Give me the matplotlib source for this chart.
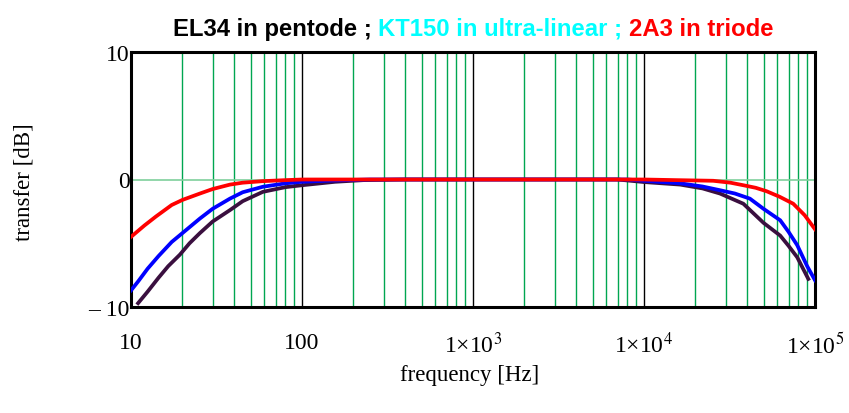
import numpy as np
import matplotlib
matplotlib.use('Agg')
import matplotlib.pyplot as plt

plt.rcParams['font.family'] = 'Liberation Serif'
plt.rcParams['mathtext.fontset'] = 'stix'

# EL34 in pentode (dark purple)
el34_f = [11.0, 12.5, 14.5, 16.5, 19.3, 22, 25.3, 30, 37.9, 45, 59, 80, 100, 156, 228, 400,
          1000, 7000, 10000, 16300, 22000, 27800, 38100, 50000, 62600, 70000, 78700, 91400]
el34_db = [-9.7, -8.8, -7.7, -6.8, -5.9, -5.0, -4.2, -3.3, -2.4, -1.7, -0.97, -0.6, -0.45, -0.18, -0.05, 0,
           0, 0, -0.2, -0.4, -0.7, -1.1, -1.9, -3.4, -4.4, -5.2, -6.1, -7.8]

# KT150 in ultra-linear (blue)
kt150_f = [10, 11, 12.5, 14.5, 17.3, 20, 25.3, 30, 37.9, 45, 59, 80, 100, 150, 250,
           1000, 8000, 10000, 16300, 22000, 27800, 34000, 41600, 50000, 62600, 70000, 78700, 90000, 100000]
kt150_db = [-8.7, -8.0, -7.0, -6.0, -4.9, -4.2, -3.06, -2.3, -1.5, -1.0, -0.57, -0.3, -0.18, -0.08, 0,
            0, 0, -0.1, -0.3, -0.55, -0.84, -1.1, -1.5, -2.3, -3.2, -4.1, -5.15, -6.8, -7.9]

# 2A3 in triode (red)
a23_f = [10, 12, 14, 17.3, 20, 25.3, 30, 37.9, 45, 59, 80, 100, 1000, 10000,
         15500, 25400, 32000, 38100, 45000, 52100, 62000, 74600, 87000, 100000]
a23_db = [-4.5, -3.6, -2.9, -2.0, -1.6, -1.1, -0.75, -0.4, -0.25, -0.13, -0.05, 0, 0, 0,
          -0.05, -0.1, -0.25, -0.45, -0.65, -0.92, -1.35, -1.9, -2.8, -3.9]

x_ticks = [10, 100, 1000, 10000, 100000]
x_ticklabels = ['10', '100', r'1×10$^{3}$', r'1×10$^{4}$', r'1×10$^{5}$']
y_ticks = [-10, 0, 10]
y_ticklabels = ['– 10', '0', '10']

fig = plt.figure(figsize=(8.49, 4.14), dpi=100)
ax = fig.add_axes([131/849, 1-308/414, (815-131)/849, (308-53)/414])

# grid: green minor lines, black decade lines, light green zero line
for dec in [10, 100, 1000, 10000]:
    for m in range(2, 10):
        ax.axvline(dec*m, color='#00a651', lw=1.0, zorder=1)
for dec in [100, 1000, 10000]:
    ax.axvline(dec, color='black', lw=1.0, zorder=1)
ax.axhline(0, color='#7fcf9c', lw=1.2, zorder=1)

lw = 2.7
ax.plot(el34_f, el34_db, color='#3a0f3f', lw=lw, zorder=3)
ax.plot(kt150_f, kt150_db, color='#0000ff', lw=lw, zorder=4)
ax.plot(a23_f, a23_db, color='#ff0000', lw=lw, zorder=5)

ax.set_xscale('log')
ax.set_xlim(10, 100000)
ax.set_ylim(-10, 10)
ax.set_xticks(x_ticks)
ax.set_xticklabels(x_ticklabels)
ax.minorticks_off()
ax.set_yticks(y_ticks)
ax.set_yticklabels(y_ticklabels)
ax.tick_params(length=0, labelsize=17)
ax.tick_params(axis='x', pad=18)
ax.tick_params(axis='y', pad=1)
for s in ax.spines.values():
    s.set_linewidth(2.2)
    s.set_color('black')

fig.text(24/849, 1-182/414, 'transfer [dB]', rotation=90, ha='center', va='center', fontsize=16.5)
fig.text(470/849, 1-376/414, 'frequency [Hz]', ha='center', va='center', fontsize=16.5)

# multi-coloured title
tfont = dict(family='Liberation Sans', weight='bold', fontsize=17.2)
t1 = fig.text(173/849, 1-36/414, 'EL34 in pentode ; ', color='black', va='baseline', ha='left', **tfont)
t2 = ax.annotate('KT150 in ultra-linear ; ', xy=(1, 0), xycoords=t1, va='bottom', ha='left',
                 color='#00ffff', **tfont)
t3 = ax.annotate('2A3 in triode', xy=(1, 0), xycoords=t2, va='bottom', ha='left',
                 color='#ff0000', **tfont)

fig.savefig('out.png', dpi=100)
